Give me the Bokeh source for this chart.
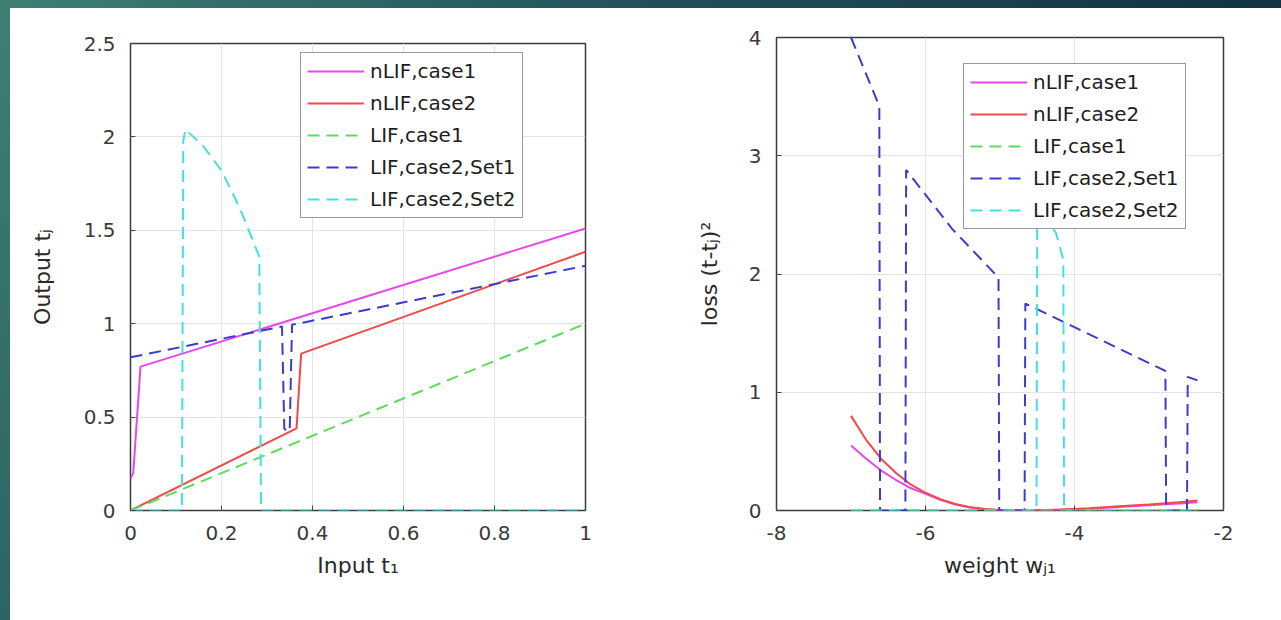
from bokeh.plotting import figure
from bokeh.models import Range1d, FixedTicker, PrintfTickFormatter
from bokeh.layouts import row
from bokeh.embed import file_html
from bokeh.resources import INLINE

# ---------------- data: left panel (output vs input) ----------------
in_nlif1_x = [0.0, 0.006, 0.022, 1.0]
in_nlif1_y = [0.17, 0.20, 0.77, 1.51]
in_nlif2_x = [0.0, 0.365, 0.375, 1.0]
in_nlif2_y = [0.0, 0.44, 0.84, 1.385]
in_lif1_x = [0.0, 1.0]
in_lif1_y = [0.0, 1.0]
in_set1_x = [0.0, 0.333, 0.338, 0.344, 0.350, 0.355, 1.0]
in_set1_y = [0.82, 0.985, 0.44, 0.42, 0.44, 0.994, 1.31]
in_set2_x = [0.0, 0.113, 0.116, 0.121, 0.16, 0.20, 0.24, 0.283, 0.287, 1.0]
in_set2_y = [0.0, 0.0, 1.98, 2.04, 1.95, 1.82, 1.62, 1.36, 0.0, 0.0]

# ---------------- data: right panel (loss vs weight) ----------------
w_curve = [-7.0, -6.8, -6.6, -6.4, -6.2, -6.0, -5.8, -5.6, -5.4, -5.2, -5.0,
           -4.6, -4.2, -3.8, -3.4, -3.0, -2.6, -2.35]
loss_nlif1 = [0.55, 0.44, 0.34, 0.26, 0.19, 0.14, 0.09, 0.05, 0.025, 0.01, 0.003,
              0.0, 0.005, 0.015, 0.03, 0.045, 0.06, 0.07]
loss_nlif2 = [0.80, 0.60, 0.44, 0.32, 0.22, 0.15, 0.095, 0.055, 0.028, 0.012, 0.004,
              0.0, 0.008, 0.02, 0.035, 0.05, 0.07, 0.085]
w_lif1 = [-7.0, -2.35]
loss_lif1 = [0.0, 0.0]
w_set1 = [-7.0, -6.62, -6.61, -6.27, -6.26, -5.64, -5.02, -5.01, -4.67, -4.66,
          -2.78, -2.77, -2.49, -2.48, -2.35]
loss_set1 = [4.0, 3.42, 0.0, 0.0, 2.88, 2.38, 1.97, 0.0, 0.0, 1.75,
             1.18, 0.0, 0.0, 1.13, 1.10]
w_set2 = [-7.0, -4.51, -4.50, -4.25, -4.15, -4.14, -2.35]
loss_set2 = [0.0, 0.0, 2.55, 2.35, 2.12, 0.0, 0.0]

series_labels = ["nLIF,case1", "nLIF,case2", "LIF,case1", "LIF,case2,Set1", "LIF,case2,Set2"]
series_colors = ["#e848ea", "#f04a4a", "#5cdc5c", "#3c3ccc", "#44e0e0"]
series_dash = ["solid", "solid", "12 7", "12 7", "12 7"]

left_xticks = [0.0, 0.2, 0.4, 0.6, 0.8, 1.0]
left_xlabels = ["0", "0.2", "0.4", "0.6", "0.8", "1"]
left_yticks = [0.0, 0.5, 1.0, 1.5, 2.0, 2.5]
left_ylabels = ["0", "0.5", "1", "1.5", "2", "2.5"]
right_xticks = [-8, -6, -4, -2]
right_xlabels = ["-8", "-6", "-4", "-2"]
right_yticks = [0, 1, 2, 3, 4]
right_ylabels = ["0", "1", "2", "3", "4"]

FONT = "DejaVu Sans"


def style(p, xt, xl, yt, yl, xlabel, ylabel, ylab_standoff):
    for ax, ticks, labels in ((p.xaxis[0], xt, xl), (p.yaxis[0], yt, yl)):
        ax.ticker = FixedTicker(ticks=ticks)
        ax.formatter = PrintfTickFormatter(format="%g")
        ax.major_label_overrides = {float(t): s for t, s in zip(ticks, labels)}
        ax.major_tick_in = 5
        ax.major_tick_out = 0
        ax.minor_tick_line_color = None
        ax.major_tick_line_color = "#444444"
        ax.axis_line_color = None
        ax.major_label_text_font = FONT
        ax.major_label_text_font_size = "20px"
        ax.major_label_text_color = "#3a3a3a"
        ax.major_label_standoff = 15
        ax.axis_label_text_font = FONT
        ax.axis_label_text_font_size = "22px"
        ax.axis_label_text_font_style = "normal"
        ax.axis_label_text_color = "#2a2a2a"
    p.xaxis[0].axis_label = xlabel
    p.yaxis[0].axis_label = ylabel
    p.xaxis[0].axis_label_standoff = 10
    p.yaxis[0].axis_label_standoff = ylab_standoff
    p.xgrid.ticker = FixedTicker(ticks=xt)
    p.ygrid.ticker = FixedTicker(ticks=yt)
    p.grid.grid_line_color = "#e3e3e3"
    p.grid.grid_line_width = 1
    p.outline_line_color = "#3a3a3a"
    p.outline_line_width = 1.5
    p.background_fill_color = "white"
    p.border_fill_color = "white"


def add_series(p, xs, ys):
    for x, y, lab, col, dash in zip(xs, ys, series_labels, series_colors, series_dash):
        p.line(x, y, line_color=col, line_width=2, line_dash=dash, legend_label=lab)


def style_legend(p, loc):
    lg = p.legend[0]
    lg.location = loc
    lg.margin = 0
    lg.padding = 6
    lg.spacing = 8
    lg.glyph_width = 57
    lg.glyph_height = 24
    lg.label_height = 24
    lg.label_standoff = 6
    lg.label_text_font = FONT
    lg.label_text_font_size = "20px"
    lg.label_text_color = "#1e1e1e"
    lg.border_line_color = "#333333"
    lg.border_line_width = 1
    lg.background_fill_color = "white"
    lg.background_fill_alpha = 1.0


p1 = figure(width=630, height=606, output_backend="svg", toolbar_location=None,
            title_location=None,
            x_range=Range1d(0, 1), y_range=Range1d(0, 2.5),
            min_border_left=120, min_border_right=55, min_border_top=29, min_border_bottom=110)
p1.margin = (14, 0, 0, 10)
style(p1, left_xticks, left_xlabels, left_yticks, left_ylabels,
      "Input t\u2081", "Output t\u2c7c", 26)
add_series(p1, [in_nlif1_x, in_nlif2_x, in_lif1_x, in_set1_x, in_set2_x],
           [in_nlif1_y, in_nlif2_y, in_lif1_y, in_set1_y, in_set2_y])
style_legend(p1, (170, 292))

p2 = figure(width=641, height=612, output_backend="svg", toolbar_location=None,
            title_location=None,
            x_range=Range1d(-8, -2), y_range=Range1d(0, 4),
            min_border_left=136, min_border_right=58, min_border_top=29, min_border_bottom=110)
p2.margin = (8, 0, 0, 0)
style(p2, right_xticks, right_xlabels, right_yticks, right_ylabels,
      "weight w\u2c7c\u2081", "loss (t-t\u2c7c)\u00b2", 24)
add_series(p2, [w_curve, w_curve, w_lif1, w_set1, w_set2],
           [loss_nlif1, loss_nlif2, loss_lif1, loss_set1, loss_set2])
style_legend(p2, (187, 281))

layout = row(p1, p2, styles={
    "background": ("linear-gradient(to right, #3e7f73, #22515b 50%, #12333f) 0 0 / 100% 8px no-repeat, "
                   "linear-gradient(to bottom, #3e7f73, #2c6363) 0 0 / 10px 100% no-repeat, #ffffff")
})

with open("out.html", "w") as f:
    f.write(file_html(layout, INLINE))
